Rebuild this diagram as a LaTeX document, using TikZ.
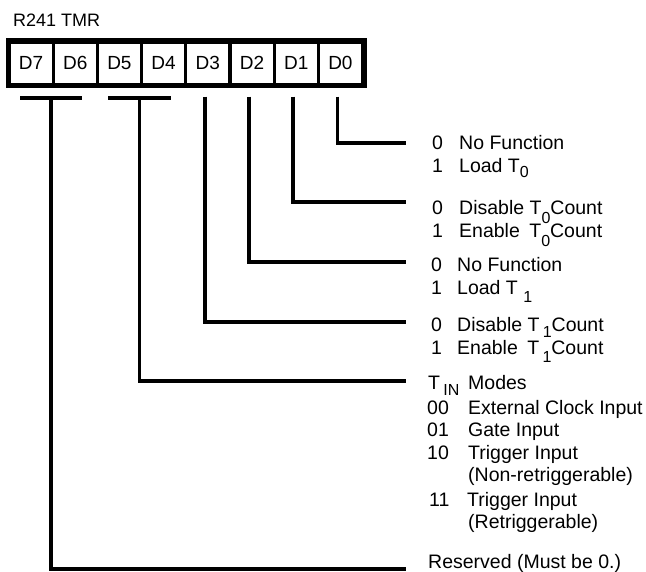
\documentclass[tikz,border=0pt]{standalone}
\usepackage{fontspec}
\setmainfont{Liberation Sans}
\newcommand{\lo}[2][7pt]{\raisebox{-#1}{\fontsize{16}{16}\selectfont #2}}
\tikzstyle{bit}=[fill=white,minimum width=41pt,minimum height=39pt,inner sep=0pt,font=\fontsize{19}{19}\selectfont]
\tikzstyle{txt}=[anchor=base west,inner sep=0pt,font=\fontsize{19.5}{19.5}\selectfont]
\tikzstyle{wire}=[line width=3.7pt]

\begin{document}
\begin{tikzpicture}[x=1pt,y=-1pt]
\useasboundingbox (0,0) rectangle (646,571);
\node[anchor=base west,inner sep=0pt,font=\fontsize{18}{18}\selectfont] at (13,26) (title) {R241 TMR};

% register
\node[fill=black,minimum width=361pt,minimum height=50pt,inner sep=0pt] at (186.5,63) (reg) {};
\node[bit] at (31,63) (D7) {D7};
\node[bit] at (75.2,63) (D6) {D6};
\node[bit] at (119.4,63) (D5) {D5};
\node[bit] at (163.6,63) (D4) {D4};
\node[bit] at (207.8,63) (D3) {D3};
\node[bit] at (252,63) (D2) {D2};
\node[bit] at (296.2,63) (D1) {D1};
\node[bit] at (340.4,63) (D0) {D0};

\coordinate (b0) at ([xshift=-3pt,yshift=-14pt]D0.south);
\coordinate (b1) at ([xshift=-3pt,yshift=-14pt]D1.south);
\coordinate (b2) at ([xshift=-3pt,yshift=-14pt]D2.south);
\coordinate (b3) at ([xshift=-3pt,yshift=-14pt]D3.south);
\coordinate (b54l) at (108,98);
\coordinate (b54r) at (171,98);
\coordinate (b54) at (139.5,98);
\coordinate (b76l) at (20,98);
\coordinate (b76r) at (82,98);
\coordinate (b76) at (51,98);

\coordinate (e0) at (406,143);
\coordinate (e1) at (406,202);
\coordinate (e2) at (406,262);
\coordinate (e3) at (406,322);
\coordinate (e54) at (406,381);
\coordinate (e76) at (406,569);

\draw[wire] (b0) |- (e0);
\draw[wire] (b1) |- (e1);
\draw[wire] (b2) |- (e2);
\draw[wire] (b3) |- (e3);
\draw[wire] (b54l) -- (b54r);
\draw[wire] (b54) |- (e54);
\draw[wire] (b76l) -- (b76r);
\draw[wire] (b76) |- (e76);

% D0
\node[txt] at (432,149) (c0a) {0};
\node[txt] at (459,149) (t0a) {No Function};
\node[txt] at (432,172) (c0b) {1};
\node[txt] at (459,172) (t0b) {Load T\lo[5pt]{0}};
% D1
\node[txt] at (432,214) (c1a) {0};
\node[txt] at (459,214) (t1a) {Disable T\lo[9pt]{0}Count};
\node[txt] at (432,237) (c1b) {1};
\node[txt] at (459,237) (t1b) {Enable\hspace{4pt} T\lo[9pt]{0}Count};
% D2
\node[txt] at (431,271) (c2a) {0};
\node[txt] at (457,271) (t2a) {No Function};
\node[txt] at (431,294) (c2b) {1};
\node[txt] at (457,294) (t2b) {Load T \lo[8pt]{1}};
% D3
\node[txt] at (431,331) (c3a) {0};
\node[txt] at (457,331) (t3a) {Disable T\,\lo[6pt]{1}Count};
\node[txt] at (431,354) (c3b) {1};
\node[txt] at (457,354) (t3b) {Enable\hspace{4pt} T\,\lo[8pt]{1}Count};
% D5 D4
\node[txt] at (428,389) (c54) {T\,\lo[6pt]{IN}};
\node[txt] at (468,389) (t54) {Modes};
\node[txt] at (427,414) (c54a) {00};
\node[txt] at (468,414) (t54a) {External Clock Input};
\node[txt] at (427,436) (c54b) {01};
\node[txt] at (468,436) (t54b) {Gate Input};
\node[txt] at (427,459) (c54c) {10};
\node[txt] at (468,459) (t54c) {Trigger Input};
\node[txt] at (468,481) (t54cc) {(Non-retriggerable)};
\node[txt] at (429,506) (c54d) {11};
\node[txt] at (467,506) (t54d) {Trigger Input};
\node[txt] at (468,528) (t54dd) {(Retriggerable)};
% D7 D6
\node[txt] at (428,568) (t76) {Reserved (Must be 0.)};
\end{tikzpicture}
\end{document}
